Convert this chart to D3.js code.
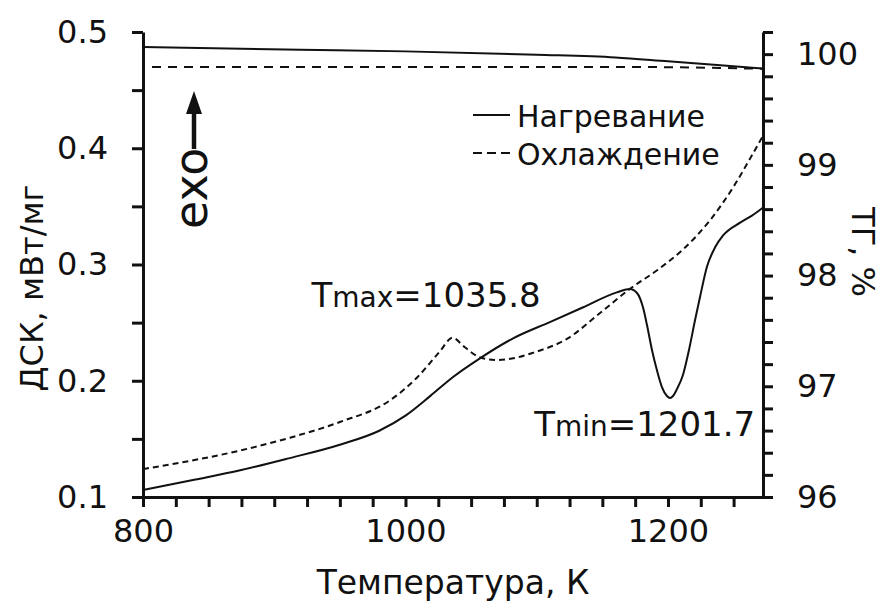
<!DOCTYPE html>
<html>
<head>
<meta charset="utf-8">
<script src="https://cdn.jsdelivr.net/npm/d3@7/dist/d3.min.js"></script>
<style>
  html, body { margin: 0; padding: 0; background: #fff; }
  svg { display: block; }
  text { font-family: "DejaVu Sans", sans-serif; fill: #111; }
</style>
</head>
<body>
<svg id="chart" width="882" height="606"></svg>
<script>
// DSC, heating (solid)
const heatT   = [800, 840, 874, 910, 950, 980, 1000, 1019, 1036, 1057, 1082, 1110, 1135, 1161, 1171, 1176.4, 1181, 1184, 1187.8, 1191.6, 1195.4, 1199.2, 1201.7, 1203.8, 1206.9, 1211.4, 1216, 1220.6, 1224.4, 1229.7, 1236, 1242, 1255, 1264, 1272];
const heatDSC = [0.106, 0.115, 0.123, 0.133, 0.145, 0.157, 0.170, 0.187, 0.203, 0.2195, 0.2365, 0.2505, 0.263, 0.276, 0.279, 0.2755, 0.263, 0.248, 0.2265, 0.209, 0.1946, 0.1869, 0.1852, 0.1869, 0.193, 0.205, 0.2265, 0.252, 0.272, 0.298, 0.315, 0.325, 0.336, 0.342, 0.3486];

// DSC, cooling (dashed)
const coolT   = [800, 874, 912, 950, 988, 1009, 1026, 1035.8, 1045, 1057, 1070, 1085, 1097, 1123, 1148, 1171, 1192, 1211, 1232, 1250, 1262, 1272];
const coolDSC = [0.124, 0.140, 0.151, 0.1645, 0.183, 0.203, 0.225, 0.237, 0.229, 0.220, 0.2178, 0.220, 0.224, 0.236, 0.258, 0.279, 0.2953, 0.3125, 0.338, 0.367, 0.390, 0.410];

// TG curves (right axis)
const tgT    = [800, 920, 1000, 1100, 1160, 1200, 1240, 1272];
const tgHeat = [100.065, 100.04, 100.025, 99.995, 99.97, 99.935, 99.9, 99.87];
const tgCool = [99.885, 99.885, 99.885, 99.885, 99.885, 99.882, 99.875, 99.868];

// Peak annotations
const tMax = 1035.8;
const tMin = 1201.7;

// Axis ticks
const xMajor = [800, 1000, 1200];
const xMinor = d3.range(800, 1271, 25);
const yMajor = [0.1, 0.2, 0.3, 0.4, 0.5];
const yMinor = d3.range(0.1, 0.5001, 0.05);
const tgMajor = [96, 97, 98, 99, 100];
const tgMinor = d3.range(96, 100.2001, 0.2);

const labels = {
  x: "Температура, К",
  y: "ДСК, мВт/мг",
  y2: "ТГ, %",
  heat: "Нагревание",
  cool: "Охлаждение",
  exo: "exo"
};

const L = 143, R = 763, T = 32, B = 497;
const svg = d3.select("#chart");

const x = d3.scaleLinear().domain([800, 1272.4]).range([L, R]);
const y = d3.scaleLinear().domain([0.1, 0.5]).range([B, T]);
const y2 = d3.scaleLinear().domain([96, 100.2]).range([B, T]);

const isMajor = (arr, v) => arr.some(m => Math.abs(m - v) < 1e-6);
const tickFont = 32;

// Bottom axis
const gx = svg.append("g").attr("transform", `translate(0,${B})`)
  .call(d3.axisBottom(x).tickValues(xMinor).tickSize(10).tickSizeOuter(0).tickPadding(12)
    .tickFormat(d => isMajor(xMajor, d) ? d3.format("d")(d) : ""));
// Left axis
const gy = svg.append("g").attr("transform", `translate(${L},0)`)
  .call(d3.axisLeft(y).tickValues(yMinor).tickSize(11).tickSizeOuter(0).tickPadding(24)
    .tickFormat(d => isMajor(yMajor, d) ? d3.format(".1f")(d) : ""));
// Right axis
const gy2 = svg.append("g").attr("transform", `translate(${R},0)`)
  .call(d3.axisRight(y2).tickValues(tgMinor).tickSize(10).tickSizeOuter(0).tickPadding(24)
    .tickFormat(d => isMajor(tgMajor, d) ? d3.format("d")(d) : ""));

[gx, gy, gy2].forEach(g => {
  g.select(".domain").attr("stroke", "#111").attr("stroke-width", 3);
  g.selectAll(".tick line").attr("stroke", "#111").attr("stroke-width", 3);
  g.selectAll(".tick text").attr("font-size", tickFont)
    .attr("font-family", "DejaVu Sans Condensed, DejaVu Sans, sans-serif").attr("fill", "#111");
});

// Curves
const lineDSC = d3.line().x(d => x(d[0])).y(d => y(d[1])).curve(d3.curveMonotoneX);
const lineTG = d3.line().x(d => x(d[0])).y(d => y2(d[1])).curve(d3.curveMonotoneX);

svg.append("path").datum(d3.zip(tgT, tgHeat)).attr("d", lineTG)
  .attr("fill", "none").attr("stroke", "#111").attr("stroke-width", 2);
svg.append("path").datum(d3.zip(tgT, tgCool)).attr("d", lineTG)
  .attr("fill", "none").attr("stroke", "#111").attr("stroke-width", 2)
  .attr("stroke-dasharray", "9,7").attr("stroke-dashoffset", -9);

svg.append("path").datum(d3.zip(heatT, heatDSC)).attr("d", lineDSC)
  .attr("fill", "none").attr("stroke", "#111").attr("stroke-width", 2);
svg.append("path").datum(d3.zip(coolT, coolDSC)).attr("d", lineDSC)
  .attr("fill", "none").attr("stroke", "#111").attr("stroke-width", 2)
  .attr("stroke-dasharray", "6,4");

// Axis titles
svg.append("text").attr("x", (L + R) / 2).attr("y", 594).attr("text-anchor", "middle")
  .attr("font-size", 33).text(labels.x);
svg.append("text").attr("transform", "translate(43,288) rotate(-90)").attr("text-anchor", "middle")
  .attr("font-size", 32).text(labels.y);
svg.append("text").attr("transform", "translate(852,252) rotate(90)").attr("text-anchor", "middle")
  .attr("font-size", 32).text(labels.y2);

// Legend
const lg = svg.append("g");
lg.append("line").attr("x1", 473).attr("x2", 510).attr("y1", 115).attr("y2", 115)
  .attr("stroke", "#111").attr("stroke-width", 2);
lg.append("text").attr("x", 517).attr("y", 127).attr("font-size", 30).text(labels.heat);
lg.append("line").attr("x1", 473).attr("x2", 510).attr("y1", 153).attr("y2", 153)
  .attr("stroke", "#111").attr("stroke-width", 2).attr("stroke-dasharray", "9,5");
lg.append("text").attr("x", 517).attr("y", 165).attr("font-size", 30).text(labels.cool);

// exo arrow
svg.append("text").attr("transform", "translate(207,229) rotate(-90)")
  .attr("font-family", "Liberation Sans, Arial, sans-serif").attr("font-size", 46).text(labels.exo);
svg.append("line").attr("x1", 194).attr("x2", 194).attr("y1", 149).attr("y2", 110)
  .attr("stroke", "#111").attr("stroke-width", 4.5);
svg.append("path").attr("d", "M186,114 L194,91 L202,114 Z").attr("fill", "#111");

// Peak labels tied to curve extrema
const maxX = x(tMax), maxY = y(coolDSC[coolT.indexOf(tMax)]);
const tmaxText = svg.append("text").attr("x", maxX - 141).attr("y", maxY - 31).attr("font-size", 34);
tmaxText.append("tspan").text("T");
tmaxText.append("tspan").attr("font-size", 28).text("max");
tmaxText.append("tspan").text("=" + d3.format(".1f")(tMax));

const minX = x(tMin), minY = y(heatDSC[heatT.indexOf(tMin)]);
const tminText = svg.append("text").attr("x", minX + 85).attr("y", minY + 38)
  .attr("text-anchor", "end").attr("font-size", 34);
tminText.append("tspan").text("T");
tminText.append("tspan").attr("font-size", 28).text("min");
tminText.append("tspan").text("=" + d3.format(".1f")(tMin));
</script>
</body>
</html>
